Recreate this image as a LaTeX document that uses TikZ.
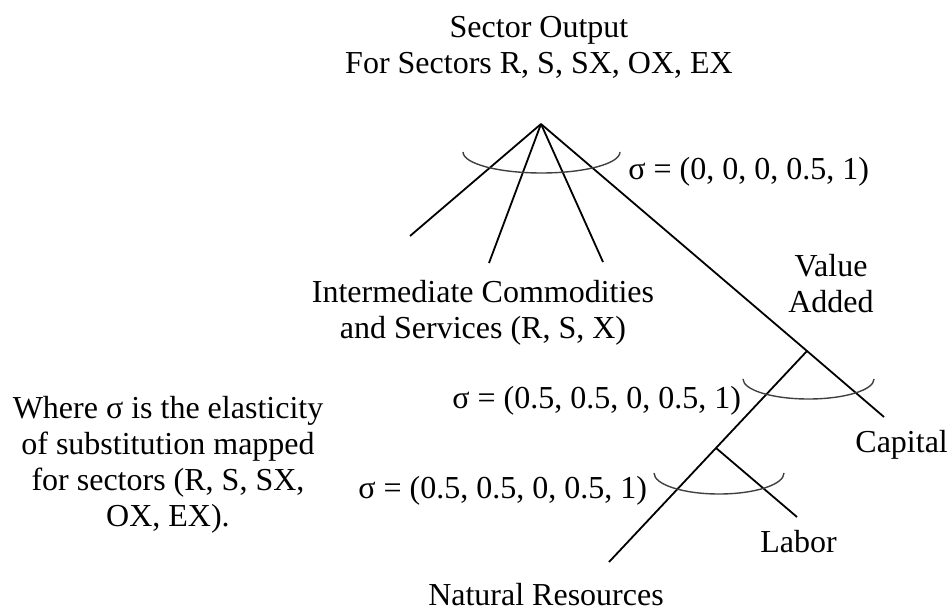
\documentclass[tikz,border=0pt]{standalone}
\usepackage{fontspec}
\setmainfont{Liberation Serif}

\def\elastarc#1#2#3#4{
   % lower half of an ellipse, starting at its left tip
   \draw[elast] (#1,#2) arc[start angle=180, end angle=0, x radius=#3, y radius=#4];
}

\begin{document}
\begin{tikzpicture}[x=0.5pt, y=-0.5pt, font=\fontsize{16pt}{18pt}\selectfont,
   lbl/.style={inner sep=0pt, align=center},
   branch/.style={line width=0.9pt},
   elast/.style={line width=0.7pt, black!75}]
   \useasboundingbox (0,0) rectangle (951,609);
   % joints and free ends of the tree
   \coordinate (top) at (541,124);
   \coordinate (ic1) at (410,236);
   \coordinate (ic2) at (489,263);
   \coordinate (ic3) at (603,262);
   \coordinate (va) at (807,351);
   \coordinate (cap) at (884,417);
   \coordinate (lab) at (716,448);
   \coordinate (labend) at (797,517);
   \coordinate (nr) at (609,562);
   % labels
   \node[lbl] (output) at (539,47) {Sector Output\\For Sectors R, S, SX, OX, EX};
   \node[lbl] (inter) at (483,313) {Intermediate Commodities\\and Services (R, S, X)};
   \node[lbl] (valadd) at (831,284) {Value\\Added};
   \node[lbl, anchor=base west] (capital) at (855,452) {Capital};
   \node[lbl, anchor=base west] (labor) at (760,552) {Labor};
   \node[lbl, anchor=base] (natres) at (546,605) {Natural Resources};
   \node[lbl, anchor=base west] (sig1) at (628,180) {σ = (0, 0, 0, 0.5, 1)};
   \node[lbl, anchor=base west] (sig2) at (452,408) {σ = (0.5, 0.5, 0, 0.5, 1)};
   \node[lbl, anchor=base west] (sig3) at (358,498) {σ = (0.5, 0.5, 0, 0.5, 1)};
   \node[lbl] (where) at (168,465) {Where σ is the elasticity\\of substitution mapped\\for sectors (R, S, SX,\\OX, EX).};
   % branches
   \draw[branch] (top) -- (ic1);
   \draw[branch] (top) -- (ic2);
   \draw[branch] (top) -- (ic3);
   \draw[branch] (top) -- (va) -- (cap);
   \draw[branch] (va) -- (lab) -- (nr);
   \draw[branch] (lab) -- (labend);
   % substitution arcs
   \elastarc{463}{152}{78.5}{21}
   \elastarc{743}{379}{65.5}{20}
   \elastarc{654}{473}{65}{21}
\end{tikzpicture}
\end{document}
